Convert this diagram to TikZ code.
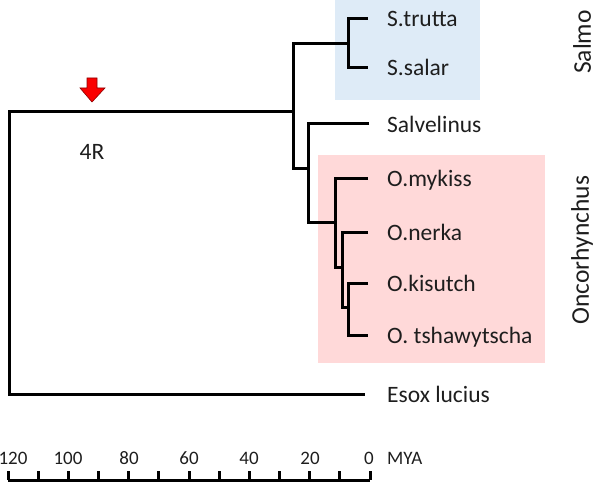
\documentclass[tikz,border=0pt]{standalone}
\usepackage{fontspec}
\setmainfont{Carlito}
\usepackage{tikz}
\usetikzlibrary{
	arrows.meta,
	positioning,
	calc
}
\usepackage{xcolor}
\definecolor{salmobox}{RGB}{222,235,247}
\definecolor{oncobox}{RGB}{255,217,217}
\definecolor{wgdred}{RGB}{250,0,0}
\definecolor{wgdedge}{RGB}{140,0,0}
\definecolor{labelgray}{RGB}{30,30,30}

\begin{document}
\begin{tikzpicture}[
			x=1pt,y=-1pt,
			branch/.style={line width=3pt},
			taxon/.style={anchor=base west,inner sep=0pt,text=labelgray,font=\fontsize{23.5}{28}\selectfont},
			scalelabel/.style={inner sep=0pt,anchor=base,text=labelgray,font=\fontsize{19}{23}\selectfont},
			genus/.style={rotate=90,inner sep=0pt,text=labelgray,font=\fontsize{25.5}{30}\selectfont}
			]
			\useasboundingbox (0,0) rectangle (597,484);
			
			% Genus boxes
			\fill[salmobox] (335,0) rectangle (480,100);
			\fill[oncobox] (318,155) rectangle (545,363);
			
			% Internal nodes
			\coordinate (root) at (9,253);
			\coordinate (salm) at (293,112);
			\coordinate (salmo) at (348,44);
			\coordinate (salvon) at (308,168);
			\coordinate (onco) at (335,222);
			\coordinate (nk) at (342,267);
			\coordinate (kt) at (348,307);
			
			% Tips
			\coordinate (trutta) at (368,19);
			\coordinate (salar) at (368,68);
			\coordinate (salv) at (369,124);
			\coordinate (mykiss) at (368,178);
			\coordinate (nerka) at (368,232);
			\coordinate (kisutch) at (368,283);
			\coordinate (tsha) at (368,335);
			\coordinate (esox) at (365,394);
			
			% Branches
			\draw[branch] (salm) -| (root) |- (esox);
			\draw[branch] (salmo) -| (salm) |- (salvon);
			\draw[branch] (trutta) -| (salmo) |- (salar);
			\draw[branch] (salv) -| (salvon) |- (onco);
			\draw[branch] (mykiss) -| (onco) |- (nk);
			\draw[branch] (nerka) -| (nk) |- (kt);
			\draw[branch] (kisutch) -| (kt) |- (tsha);
			
			% Tip labels
			\node[taxon] (trutta-l) at ([shift={(19,8)}]trutta) {S.trutta};
			\node[taxon] (salar-l) at ([shift={(19,8)}]salar) {S.salar};
			\node[taxon] (salv-l) at ([shift={(18,8)}]salv) {Salvelinus};
			\node[taxon] (mykiss-l) at ([shift={(19,8)}]mykiss) {O.mykiss};
			\node[taxon] (nerka-l) at ([shift={(19,8)}]nerka) {O.nerka};
			\node[taxon] (kisutch-l) at ([shift={(19,8)}]kisutch) {O.kisutch};
			\node[taxon] (tsha-l) at ([shift={(19,8)}]tsha) {O. tshawytscha};
			\node[taxon] (esox-l) at ([shift={(22,8)}]esox) {Esox lucius};
			
			% Genus labels
			\node[genus] (salmo-g) at (582,42) {Salmo};
			\node[genus] (onco-g) at (582,250) {Oncorhynchus};
			
			% Genome duplication
			\filldraw[fill=wgdred,draw=wgdedge,line width=0.6pt]
				(87,78) -- (97,78) -- (97,88) -- (105,88) -- (92,102) -- (80,88) -- (87,88) -- cycle;
			\node[font=\fontsize{23.5}{28}\selectfont,text=labelgray,inner sep=0pt] (wgd) at (92,152) {4R};
			
			% Time scale
			\draw[branch] (8,480) -- (370,480);
			\foreach \i in {0,...,12}
			{
				\draw[branch] ({8+30.17*\i},480) -- ++(0,-9);
			}
			\foreach \v/\x in {120/13,100/68,80/129,60/189,40/249,20/310,0/369}
			{
				\node[scalelabel] at (\x,464) {\v};
			}
			\node[scalelabel,anchor=base west] (mya) at (387,464) {MYA};
			
		\end{tikzpicture}
\end{document}
